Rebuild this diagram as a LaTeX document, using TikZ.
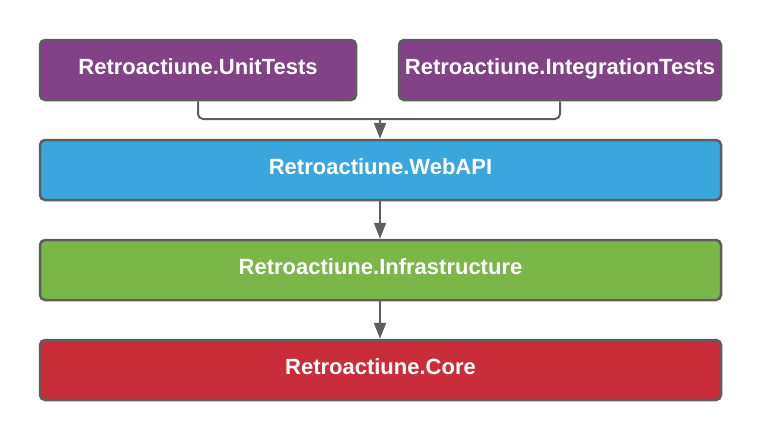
\documentclass[tikz,border=0pt]{standalone}
\usepackage{fontspec}
\setmainfont{Liberation Sans}
\usetikzlibrary{arrows.meta}
\definecolor{lpurple}{HTML}{834187}
\definecolor{lblue}{HTML}{3AA6DD}
\definecolor{lgreen}{HTML}{7AB648}
\definecolor{lred}{HTML}{C92D39}
\definecolor{lborder}{HTML}{5E5E5E}
\begin{document}
\begin{tikzpicture}[x=1pt,y=-1pt,
  box/.style={draw=lborder,line width=2.5pt,rounded corners=5pt,text=white,font=\fontsize{22}{26}\selectfont\bfseries,inner sep=0pt,text height=8pt,text depth=0pt},
  conn/.style={draw=lborder,line width=2pt,-{Triangle[length=16pt,width=12pt]}}]
\useasboundingbox (0,0) rectangle (760,440);
\node[box,fill=lpurple,minimum width=316pt,minimum height=60pt] (ut) at (198,70) {Retroactiune.UnitTests};
\node[box,fill=lpurple,minimum width=322pt,minimum height=60pt] (it) at (560,70) {Retroactiune.IntegrationTests};
\node[box,fill=lblue,minimum width=681pt,minimum height=60pt] (api) at (380.5,170) {Retroactiune.WebAPI};
\node[box,fill=lgreen,minimum width=681pt,minimum height=60pt] (inf) at (380.5,270) {Retroactiune.Infrastructure};
\node[box,fill=lred,minimum width=681pt,minimum height=60pt] (core) at (380.5,370) {Retroactiune.Core};
\coordinate (j) at (380,119);
\draw[draw=lborder,line width=2pt,rounded corners=5pt] (ut.south) |- (j) -| (it.south);
\draw[conn] (j) -- (j |- api.north);
\draw[conn] (j |- api.south) -- (j |- inf.north);
\draw[conn] (j |- inf.south) -- (j |- core.north);
\end{tikzpicture}
\end{document}
